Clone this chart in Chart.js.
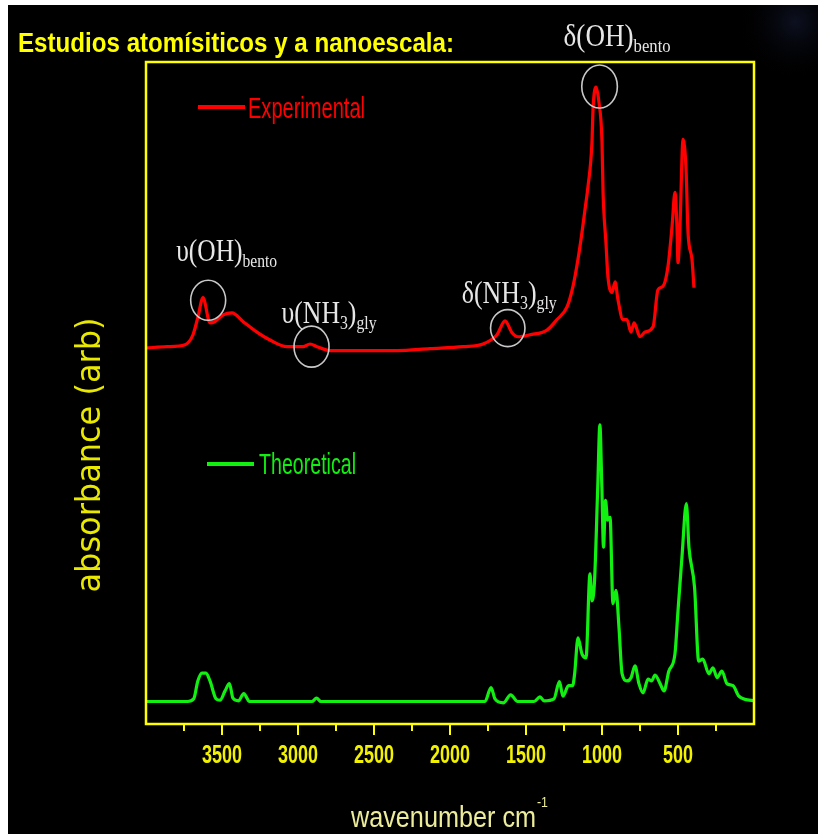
<!DOCTYPE html>
<html>
<head>
<meta charset="utf-8">
<script src="https://cdn.jsdelivr.net/npm/chart.js@4.4.0/dist/chart.umd.min.js"></script>
<style>
    html, body { margin: 0; padding: 0; background: #000; }
    canvas { display: block; }
</style>
</head>
<body>
<canvas id="spectra" width="818" height="834"></canvas>
<script>
// Espectros IR: número de onda (cm-1) y absorbancia (unidades arbitrarias, 0-100 en el marco)
const expWavenumber = [4000, 3862, 3743, 3691, 3658, 3625, 3579, 3546, 3493, 3434, 3362, 3270, 3184, 3072, 2967, 2921, 2875, 2789, 2349, 2132,
    1914, 1783, 1691, 1638, 1592, 1553, 1474, 1362, 1296, 1230, 1191, 1158, 1132, 1112, 1092, 1066, 1059, 1039, 1020, 1000,
    993, 974, 961, 934, 914, 895, 862, 836, 809, 789, 750, 717, 664, 632, 599, 566, 539, 520, 507, 500,
    487, 467, 447, 434, 408, 395];
const expAbsorbance = [56.8, 57.0, 57.3, 58.8, 61.5, 64.4, 60.6, 60.8, 61.8, 62.1, 60.8, 59.2, 58.0, 57.0, 57.0, 57.4, 57.0, 56.4, 56.4, 56.7,
    57.0, 57.4, 58.8, 60.9, 59.1, 58.5, 58.8, 59.5, 61.1, 63.0, 66.1, 70.2, 74.2, 77.7, 81.2, 87.9, 92.9, 96.2, 93.9, 87.9,
    80.3, 72.7, 67.6, 65.2, 66.8, 64.1, 61.1, 61.1, 59.2, 60.6, 58.5, 59.2, 60.0, 65.6, 66.1, 69.1, 75.2, 80.3, 75.2, 69.7,
    75.2, 88.3, 83.8, 74.2, 70.2, 65.9];

const theoWavenumber = [4000, 3726, 3686, 3659, 3632, 3605, 3579, 3539, 3513, 3480, 3451, 3428, 3391, 3357, 3319, 2908, 2878, 2849, 1770, 1730,
    1704, 1649, 1601, 1555, 1447, 1408, 1381, 1316, 1280, 1257, 1220, 1193, 1180, 1158, 1132, 1105, 1079, 1066, 1049, 1028,
    1014, 1001, 990, 977, 963, 947, 928, 908, 888, 868, 836, 809, 783, 757, 730, 697, 674, 651, 618, 592,
    560, 520, 500, 474, 445, 428, 391, 364, 337, 297, 270, 243, 211, 178, 138, 99, 2];
const theoAbsorbance = [3.4, 3.4, 3.8, 6.5, 7.7, 7.7, 6.5, 3.8, 3.6, 5.0, 6.1, 3.9, 3.5, 4.6, 3.4, 3.4, 3.9, 3.4, 3.4, 5.5,
    3.8, 3.2, 4.4, 3.4, 3.4, 4.1, 3.5, 3.8, 6.4, 4.2, 5.8, 5.8, 7.6, 13.0, 10.6, 10.0, 22.7, 18.6, 21.7, 35.8,
    45.2, 35.8, 26.7, 33.8, 30.8, 31.2, 18.2, 20.2, 14.5, 7.6, 6.5, 7.0, 8.8, 6.1, 4.7, 6.8, 6.5, 7.4, 6.1, 5.0,
    8.0, 10.6, 17.1, 25.2, 33.3, 26.7, 20.6, 9.5, 9.8, 7.6, 8.5, 7.0, 8.0, 6.1, 5.8, 4.2, 3.5];

const tickLabels = ['3500', '3000', '2500', '2000', '1500', '1000', '500'];
const seriesNames = ['Experimental', 'Theoretical'];

const RED = '#ff0000';
const GREEN = '#12f012';
const YELLOW = '#ffff00';

// Etiquetas de las bandas (círculo en coordenadas de datos, texto relativo al círculo)
const bands = [
    { parts: [['υ(OH)', 0], ['bento', 1]], wn: 3591, val: 64.0, rx: 17.5, ry: 20, dx: -32, dy: -39, width: 101 },
    { parts: [['υ(NH', 0], ['3', 1], [')', 0], ['gly', 1]], wn: 2911, val: 57.0, rx: 17.5, ry: 20.5, dx: -30, dy: -24, width: 95 },
    { parts: [['δ(NH', 0], ['3', 1], [')', 0], ['gly', 1]], wn: 1620, val: 59.8, rx: 17.2, ry: 18.5, dx: -46, dy: -25, width: 95 },
    { parts: [['δ(OH)', 0], ['bento', 1]], wn: 1016, val: 96.3, rx: 17.8, ry: 21.5, dx: -36, dy: -40, width: 107 }
];

function zip(xs, ys) {
    return xs.map((x, i) => ({ x: x, y: ys[i] }));
}

// texto comprimido horizontalmente al ancho deseado
function fitText(ctx, text, x, y, width, font, color, center) {
    ctx.save();
    ctx.font = font;
    ctx.fillStyle = color;
    ctx.textBaseline = 'alphabetic';
    ctx.textAlign = 'left';
    const w = ctx.measureText(text).width;
    ctx.translate(x, y);
    ctx.scale(width / w, 1);
    ctx.fillText(text, center ? -w / 2 : 0, 0);
    ctx.restore();
}

function drawBandLabel(ctx, parts, x, y, width) {
    const mainFont = '31px "Liberation Serif", "DejaVu Serif", serif';
    const subFont = '19px "Liberation Serif", "DejaVu Serif", serif';
    ctx.save();
    let total = 0;
    parts.forEach(p => {
        ctx.font = p[1] ? subFont : mainFont;
        total += ctx.measureText(p[0]).width;
    });
    ctx.translate(x, y);
    ctx.scale(width / total, 1);
    ctx.fillStyle = '#e6e6e6';
    let cx = 0;
    parts.forEach(p => {
        ctx.font = p[1] ? subFont : mainFont;
        ctx.fillText(p[0], cx, p[1] ? 6 : 0);
        cx += ctx.measureText(p[0]).width;
    });
    ctx.restore();
}

const backdrop = {
    id: 'backdrop',
    beforeDraw(chart) {
        const ctx = chart.ctx;
        ctx.save();
        ctx.fillStyle = '#ffffff';
        ctx.fillRect(0, 0, chart.width, chart.height);
        ctx.fillStyle = '#000000';
        ctx.fillRect(8, 5, chart.width - 8, chart.height - 5);
        const g = ctx.createRadialGradient(795, 22, 0, 795, 22, 60);
        g.addColorStop(0, 'rgba(16, 20, 40, 0.8)');
        g.addColorStop(1, 'rgba(0, 0, 0, 0)');
        ctx.fillStyle = g;
        ctx.fillRect(700, 5, 118, 90);
        ctx.restore();
    }
};

const decorations = {
    id: 'decorations',
    afterDraw(chart) {
        const ctx = chart.ctx;
        const area = chart.chartArea;
        const xs = chart.scales.x;
        const ys = chart.scales.y;

        // marco amarillo
        ctx.save();
        ctx.strokeStyle = YELLOW;
        ctx.lineWidth = 2.5;
        ctx.strokeRect(area.left, area.top, area.right - area.left, area.bottom - area.top);

        // marcas del eje x
        ctx.lineWidth = 2;
        xs.ticks.forEach(t => {
            if (t.value <= xs.min || t.value >= xs.max) return;
            const px = xs.getPixelForValue(t.value);
            const len = t.value % 500 === 0 ? 11 : 7;
            ctx.beginPath();
            ctx.moveTo(px, area.bottom);
            ctx.lineTo(px, area.bottom + len);
            ctx.stroke();
        });
        ctx.restore();

        // etiquetas de las marcas
        ctx.save();
        ctx.font = 'bold 26px "Liberation Sans", Arial, sans-serif';
        const sx = 40 / ctx.measureText('3500').width;
        ctx.restore();
        tickLabels.forEach(lbl => {
            const px = xs.getPixelForValue(Number(lbl));
            ctx.save();
            ctx.font = 'bold 26px "Liberation Sans", Arial, sans-serif';
            ctx.fillStyle = '#f2f200';
            ctx.textAlign = 'center';
            ctx.translate(px, area.bottom + 39);
            ctx.scale(sx, 1);
            ctx.fillText(lbl, 0, 0);
            ctx.restore();
        });

        // título
        fitText(ctx, 'Estudios atomísiticos y a nanoescala:', 18, 52, 436,
            'bold 28px "Liberation Sans", Arial, sans-serif', YELLOW, false);

        // eje y
        ctx.save();
        ctx.translate(100, 455);
        ctx.rotate(-Math.PI / 2);
        fitText(ctx, 'absorbance (arb)', 0, 0, 275, '33px "DejaVu Sans", Verdana, sans-serif', '#e8e800', true);
        ctx.restore();

        // eje x
        fitText(ctx, 'wavenumber cm', 351, 827, 185, '30px "Liberation Sans", Arial, sans-serif', '#ecec9a', false);
        fitText(ctx, '-1', 537, 807, 11, '14px "Liberation Sans", Arial, sans-serif', '#ecec9a', false);

        // leyendas
        const legends = [
            { name: seriesNames[0], color: RED, x0: 198, x1: 245, y: 107, tx: 248, base: 118, w: 117 },
            { name: seriesNames[1], color: GREEN, x0: 207, x1: 254, y: 464, tx: 259, base: 474, w: 97 }
        ];
        legends.forEach(l => {
            ctx.save();
            ctx.strokeStyle = l.color;
            ctx.lineWidth = 4;
            ctx.beginPath();
            ctx.moveTo(l.x0, l.y);
            ctx.lineTo(l.x1, l.y);
            ctx.stroke();
            ctx.restore();
            fitText(ctx, l.name, l.tx, l.base, l.w, '29px "Liberation Sans", Arial, sans-serif', l.color, false);
        });

        // bandas señaladas
        bands.forEach(b => {
            const cx = xs.getPixelForValue(b.wn);
            const cy = ys.getPixelForValue(b.val);
            ctx.save();
            ctx.strokeStyle = '#c8c8c8';
            ctx.lineWidth = 1.6;
            ctx.beginPath();
            ctx.ellipse(cx, cy, b.rx, b.ry, 0, 0, Math.PI * 2);
            ctx.stroke();
            ctx.restore();
            drawBandLabel(ctx, b.parts, cx + b.dx, cy + b.dy, b.width);
        });
    }
};

new Chart(document.getElementById('spectra'), {
    type: 'line',
    data: {
        datasets: [
            {
                label: seriesNames[0],
                data: zip(expWavenumber, expAbsorbance),
                borderColor: RED,
                borderWidth: 3.2,
                pointRadius: 0,
                cubicInterpolationMode: 'monotone'
            },
            {
                label: seriesNames[1],
                data: zip(theoWavenumber, theoAbsorbance),
                borderColor: GREEN,
                borderWidth: 3.2,
                pointRadius: 0,
                cubicInterpolationMode: 'monotone'
            }
        ]
    },
    options: {
        responsive: false,
        animation: false,
        devicePixelRatio: 1,
        layout: { padding: { left: 146, right: 64, top: 62, bottom: 0 } },
        plugins: {
            legend: { display: false },
            tooltip: { enabled: false }
        },
        scales: {
            x: {
                type: 'linear',
                min: 0,
                max: 4000,
                reverse: true,
                ticks: { stepSize: 250, display: false },
                grid: { display: false },
                border: { display: false },
                afterFit(scale) { scale.height = 110; }
            },
            y: {
                type: 'linear',
                min: 0,
                max: 100,
                display: false
            }
        }
    },
    plugins: [backdrop, decorations]
});
</script>
</body>
</html>
